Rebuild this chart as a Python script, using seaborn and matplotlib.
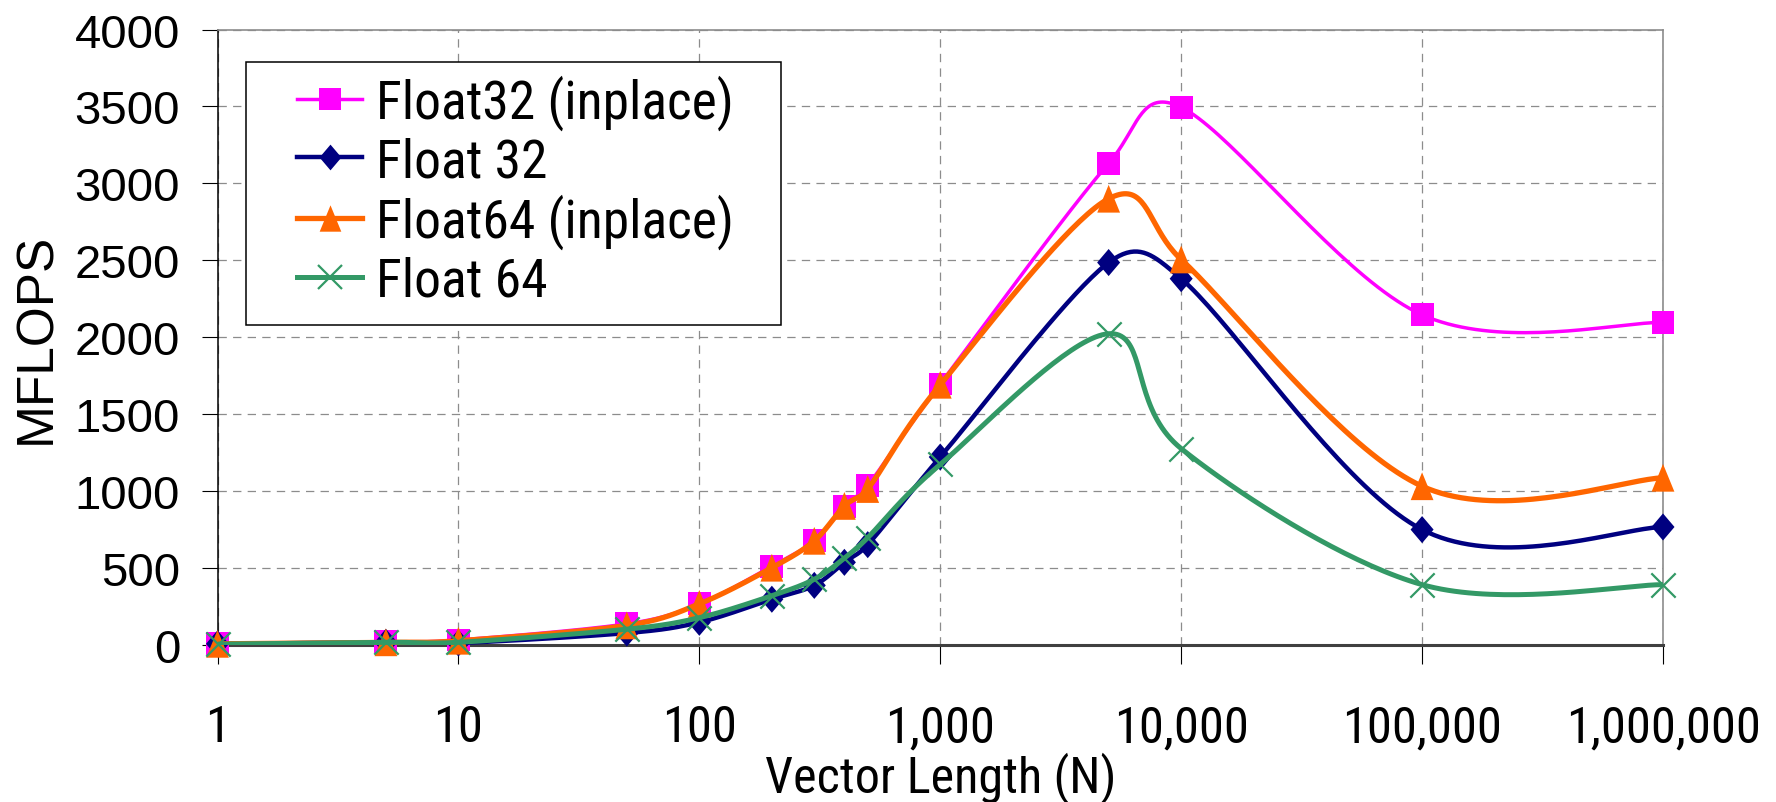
import numpy as np
import pandas as pd
import seaborn as sns
import matplotlib
matplotlib.use("Agg")
import matplotlib.pyplot as plt
from matplotlib import font_manager as fm
from matplotlib.lines import Line2D
from matplotlib.patches import Rectangle
from matplotlib.ticker import FixedLocator, FixedFormatter, NullLocator

# ---------------- data ----------------
vector_length = [1, 5, 10, 50, 100, 200, 300, 400, 500, 1000, 5000, 10000, 100000, 1000000]
float32_inplace = [8, 18, 30, 135, 265, 510, 675, 900, 1035, 1695, 3130, 3495, 2145, 2095]
float32 = [5, 15, 10, 75, 145, 295, 385, 535, 650, 1220, 2485, 2380, 748, 765]
float64_inplace = [5, 15, 25, 125, 265, 500, 675, 902, 1012, 1690, 2900, 2505, 1030, 1085]
float64 = [3, 15, 15, 100, 175, 318, 425, 562, 696, 1172, 2022, 1275, 390, 390]
series_names = ["Float32 (inplace)", "Float 32", "Float64 (inplace)", "Float 64"]
x_tick_values = [1, 10, 100, 1000, 10000, 100000, 1000000]
x_tick_labels = ["1", "10", "100", "1,000", "10,000", "100,000", "1,000,000"]
y_tick_values = [0, 500, 1000, 1500, 2000, 2500, 3000, 3500, 4000]
y_tick_labels = ["0", "500", "1000", "1500", "2000", "2500", "3000", "3500", "4000"]

# ---------------- fonts ----------------
def has_font(name):
    try:
        fm.findfont(fm.FontProperties(family=name), fallback_to_default=False)
        return True
    except Exception:
        return False


REG = "Liberation Sans" if has_font("Liberation Sans") else "DejaVu Sans"


def pick_narrow():
    entries = fm.fontManager.ttflist

    def ok(f):
        w = f.weight
        w_ok = w in (400, "400", "normal", "regular", "book", "Regular", "Normal")
        return w_ok and f.style == "normal"

    order = [("Liberation Sans Narrow", None), ("Arial Narrow", None),
             ("Noto Sans", "condensed"), ("Noto Sans Condensed", None),
             ("Open Sans", "condensed"), ("Open Sans Condensed", None),
             ("Roboto Condensed", None), ("Roboto", "condensed"),
             ("Noto Sans", "semi-condensed"), ("Noto Sans SemiCondensed", None),
             ("DejaVu Sans Condensed", None), ("DejaVu Sans", "condensed")]
    for name, stretch in order:
        for f in entries:
            if f.name == name and ok(f) and (stretch is None or f.stretch == stretch):
                return f.fname
    for f in entries:
        low = f.name.lower()
        if ok(f) and ("narrow" in low or "condensed" in low
                      or f.stretch in ("condensed", "semi-condensed")) \
                and "mono" not in low and "serif" not in low and "cjk" not in low:
            return f.fname
    return None


narrow_path = pick_narrow()


def narrow_fp(size):
    if narrow_path:
        return fm.FontProperties(fname=narrow_path, size=size)
    return fm.FontProperties(family=REG, size=size)


plt.rcParams["lines.scale_dashes"] = False
plt.rcParams["font.family"] = [REG, "DejaVu Sans"]

W, H = 1776, 803
fig = plt.figure(figsize=(W / 100, H / 100), dpi=100)
renderer = fig.canvas.get_renderer()
L, R, T, B = 217.5, 1663, 30.6, 645.6
ax = fig.add_axes([L / W, 1 - B / H, (R - L) / W, (B - T) / H])
ax.set_xscale("log")
ax.set_xlim(1, 1e6)
ax.set_ylim(0, 4000)


def text_extent(s, fp):
    t = fig.text(0, 0, s, fontproperties=fp)
    bb = t.get_window_extent(renderer)
    t.remove()
    return bb.width, bb.height


def fit_size(s, target_w, max_size):
    w, _ = text_extent(s, narrow_fp(100))
    return min(max_size, 100 * target_w / w)


# Excel-style smoothed line: cubic Bezier through the points with
# Catmull-Rom tangents (1/6 of neighbour chord) computed on screen,
# control arms limited to half of the segment length.
def smooth(xs, ys, n=40):
    P = ax.transData.transform(np.column_stack([xs, ys]).astype(float))
    segs = []
    m = len(P)
    for i in range(m - 1):
        p0 = P[i - 1] if i > 0 else P[i]
        p1, p2 = P[i], P[i + 1]
        p3 = P[i + 2] if i + 2 < m else P[i + 1]
        d12 = np.hypot(*(p2 - p1))
        a1 = (p2 - p0) / 6.0
        a2 = (p3 - p1) / 6.0
        for a in (a1, a2):
            la = np.hypot(*a)
            if la > d12 / 2 and la > 0:
                a *= (d12 / 2) / la
        b1 = p1 + a1
        b2 = p2 - a2
        t = np.linspace(0, 1, n, endpoint=(i == m - 2))[:, None]
        segs.append((1 - t) ** 3 * p1 + 3 * (1 - t) ** 2 * t * b1
                    + 3 * (1 - t) * t ** 2 * b2 + t ** 3 * p2)
    S = ax.transData.inverted().transform(np.vstack(segs))
    return S[:, 0], S[:, 1]


diamond = [(0, 1), (0.85, 0), (0, -1), (-0.85, 0), (0, 1)]
triangle = [(0, 1), (-0.82, -1), (0.82, -1), (0, 1)]

styles = [
    dict(color="#FF00FF", lw=2.5, marker="s", s=16.5 ** 2),
    dict(color="#000080", lw=3.2, marker=diamond, s=19.5 ** 2),
    dict(color="#FF6600", lw=3.8, marker=triangle, s=20 ** 2),
    dict(color="#339966", lw=3.6, marker="x", s=17.5 ** 2),
]
all_values = [float32_inplace, float32, float64_inplace, float64]

handles = []
for k, (name, vals, st) in enumerate(zip(series_names, all_values, styles)):
    sx, sy = smooth(vector_length, vals)
    df_s = pd.DataFrame({"N": sx, "MFLOPS": sy})
    sns.lineplot(data=df_s, x="N", y="MFLOPS", sort=False, estimator=None,
                 color=st["color"], linewidth=st["lw"], ax=ax, zorder=3 + 2 * k)
    df_p = pd.DataFrame({"N": vector_length, "MFLOPS": vals})
    if st["marker"] == "x":
        sns.scatterplot(data=df_p, x="N", y="MFLOPS", marker="x", s=st["s"],
                        color=st["color"], linewidth=1.6, ax=ax,
                        zorder=4 + 2 * k, clip_on=False)
    else:
        sns.scatterplot(data=df_p, x="N", y="MFLOPS", marker=st["marker"], s=st["s"],
                        color=st["color"], edgecolor="none", linewidth=0, ax=ax,
                        zorder=4 + 2 * k, clip_on=False)
    handles.append(Line2D([], [], color=st["color"], lw=st["lw"], marker=st["marker"],
                          markersize=np.sqrt(st["s"]) * 0.95,
                          markeredgewidth=(1.6 if st["marker"] == "x" else 0),
                          markerfacecolor=st["color"], markeredgecolor=st["color"]))

ax.set_xlim(1, 1e6)
ax.set_ylim(0, 4000)

ax.xaxis.set_major_locator(FixedLocator(x_tick_values))
ax.xaxis.set_major_formatter(FixedFormatter(x_tick_labels))
ax.xaxis.set_minor_locator(NullLocator())
ax.yaxis.set_major_locator(FixedLocator(y_tick_values))
ax.yaxis.set_major_formatter(FixedFormatter(y_tick_labels))

ax.grid(True, which="major", color="#8c8c8c", linewidth=0.9, linestyle=(0, (6, 4.5)))
ax.set_axisbelow(True)

xtick_size = fit_size("1,000,000", 194, 38)
xlabel_size = fit_size("Vector Length (N)", 351, 37)
legend_size = fit_size("Float32 (inplace)", 358, 42)

xpad, ypad = 24.0, 15.0
ax.tick_params(axis="x", which="major", direction="out", length=13.5, width=0.8,
               color="black", pad=xpad, labelcolor="black")
ax.tick_params(axis="y", which="major", direction="out", length=11.5, width=0.8,
               color="black", pad=ypad, labelsize=34, labelcolor="black")
for lab in ax.get_xticklabels():
    lab.set_fontproperties(narrow_fp(xtick_size))
for lab in ax.get_yticklabels():
    lab.set_fontfamily(REG)
    lab.set_fontsize(34)

ax.spines["left"].set_color("black")
ax.spines["left"].set_linewidth(1.1)
ax.spines["bottom"].set_color("#404040")
ax.spines["bottom"].set_linewidth(2.2)
for s in ("top", "right"):
    ax.spines[s].set_color("#8c8c8c")
    ax.spines[s].set_linewidth(1.2)

ax.set_xlabel("Vector Length (N)", fontproperties=narrow_fp(xlabel_size))
ax.xaxis.label.set_va("baseline")
ax.xaxis.set_label_coords(0.5, -(792 - B) / (B - T))
ax.set_ylabel("MFLOPS", fontsize=37, fontfamily=REG)
ax.yaxis.label.set_va("center")
ax.yaxis.set_label_coords((37 - L) / (R - L), (B - 338) / (B - T))

# align tick labels with the reference positions
fig.canvas.draw()
for _ in range(2):
    lab = ax.get_xticklabels()[3]
    cy = lab.get_window_extent(renderer).y0 + lab.get_window_extent(renderer).height / 2
    xpad += (cy - (H - 728)) * 0.72
    labr = ax.get_yticklabels()[-1]
    x1 = labr.get_window_extent(renderer).x1
    ypad += (x1 - 180) * 0.72
    ax.tick_params(axis="x", pad=xpad)
    ax.tick_params(axis="y", pad=ypad)
    for lab in ax.get_xticklabels():
        lab.set_fontproperties(narrow_fp(xtick_size))
    fig.canvas.draw()

# legend
fs_px = legend_size * 100 / 72
_, lh = text_extent("Float32 (inplace)", narrow_fp(legend_size))
labelspacing = (62 - lh) / fs_px
leg = ax.legend(handles, series_names, loc="upper left",
                bbox_to_anchor=(297 / W, 1 - (103 - lh / 2) / H),
                bbox_transform=fig.transFigure,
                frameon=False, borderpad=0, borderaxespad=0,
                handlelength=65 / fs_px, handletextpad=14 / fs_px,
                labelspacing=labelspacing, prop=narrow_fp(legend_size))
leg.set_zorder(20)
box = Rectangle((246 / W, 1 - 326 / H), (781 - 246) / W, (326 - 63) / H,
                transform=fig.transFigure, facecolor="white", edgecolor="black",
                linewidth=1.1, zorder=19)
ax.add_artist(box)
box.set_transform(fig.transFigure)

fig.savefig("out.png", dpi=100)
